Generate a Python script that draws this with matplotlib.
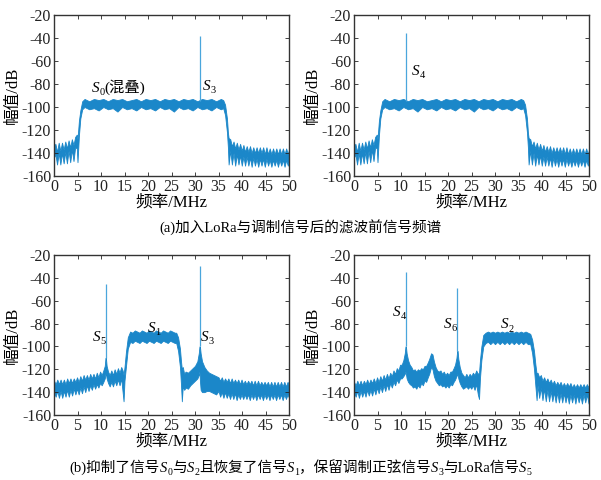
import matplotlib
matplotlib.use("Agg")
import matplotlib.pyplot as plt
from matplotlib.transforms import IdentityTransform

plt.rcParams["font.family"] = ["Liberation Serif", "Noto Sans CJK SC"]
plt.rcParams["axes.unicode_minus"] = False

BLUE = "#1b87c9"
SPIKE = "#4aa6dc"

# ---- (a) spectrum before filtering (same band for both panels) ----
a_freq = [0.0, 0.3, 0.65, 1.0, 1.35, 1.7, 2.05, 2.4, 2.75, 3.1, 3.45, 3.8, 4.15, 4.5, 4.85, 5.0,
          5.3, 5.6, 6.0,
          6.5, 7.5, 8.5, 9.5, 10.5, 11.5, 12.5, 13.5, 14.5, 15.5, 16.5, 17.5, 18.5, 19.5, 20.5,
          21.5, 22.5, 23.5, 24.5, 25.5, 26.5, 27.5, 28.5, 29.5, 30.5, 31.5, 32.5, 33.5, 34.5, 35.5,
          36.0, 36.4, 36.8, 37.0, 37.15,
          37.5, 37.85, 38.2, 38.55, 38.9, 39.25, 39.6, 39.95, 40.3, 40.65, 41.0, 41.35, 41.7,
          42.05, 42.4, 42.75, 43.1, 43.45, 43.8, 44.15, 44.5, 44.85, 45.2, 45.55, 45.9, 46.25,
          46.6, 46.95, 47.3, 47.65, 48.0, 48.35, 48.7, 49.05, 49.4, 49.75, 50.0]
a_upper = [-134, -132, -139, -131, -138, -131, -137, -130, -136, -129, -135, -128, -133, -126, -124, -128,
           -112, -103, -95,
           -93, -95, -93, -94, -93, -95, -93, -94, -93, -95, -94, -93, -95, -93, -94,
           -93, -95, -93, -94, -93, -95, -93, -94, -93, -95, -93, -94, -93, -95, -93,
           -94, -98, -110, -122, -127,
           -128, -134, -130, -136, -131, -137, -132, -138, -133, -139, -134, -139, -134,
           -140, -135, -140, -135, -140, -135, -140, -135, -141, -135, -141, -136, -141,
           -136, -141, -136, -141, -136, -141, -136, -141, -136, -141, -137]
a_lower = [-144, -141, -150, -140, -150, -140, -149, -139, -149, -138, -148, -137, -147, -135, -136, -148,
           -125, -110, -102,
           -100, -102, -101, -103, -100, -102, -101, -104, -100, -102, -101, -103, -100, -102, -101,
           -103, -100, -102, -101, -104, -100, -102, -101, -103, -100, -102, -101, -103, -100, -102,
           -101, -107, -122, -135, -150,
           -138, -150, -140, -151, -141, -150, -142, -151, -143, -151, -143, -151, -144,
           -152, -144, -151, -145, -152, -145, -151, -145, -152, -145, -151, -146, -152,
           -146, -151, -146, -152, -146, -151, -146, -152, -146, -151, -146]
a_left_spike = [31.0, -38]
a_right_spike = [11.0, -36]

# ---- (b) left: S1 recovered, S3 and S5 kept ----
bl_freq = [0.0, 0.35, 0.7, 1.05, 1.4, 1.75, 2.1, 2.45, 2.8, 3.15, 3.5, 3.85, 4.2, 4.55, 4.9, 5.25,
           5.6, 5.95, 6.3, 6.65, 7.0, 7.35, 7.7, 8.05, 8.4, 8.75, 9.1, 9.45, 9.8, 10.15, 10.5,
           10.8, 10.95, 11.05, 11.2, 11.5, 11.85, 12.2, 12.55, 12.9, 13.25, 13.6, 13.95, 14.3,
           14.6, 14.8, 15.0, 15.3, 15.7, 16.2,
           16.7, 17.2, 17.7, 18.2, 18.7, 19.2, 19.7, 20.2, 20.7, 21.2, 21.7, 22.2, 22.7, 23.2,
           23.7, 24.2, 24.7, 25.2, 25.7,
           26.0, 26.4, 26.8, 27.0, 27.2, 27.4, 27.7, 28.0, 28.5, 29.0, 29.5, 30.0, 30.5, 30.8,
           30.95, 31.05, 31.2, 31.5, 32.0, 32.5, 33.0, 33.5, 34.0, 34.5,
           35.0, 35.35, 35.7, 36.05, 36.4, 36.75, 37.1, 37.45, 37.8, 38.15, 38.5, 38.85, 39.2,
           39.55, 39.9, 40.25, 40.6, 40.95, 41.3, 41.65, 42.0, 42.35, 42.7, 43.05, 43.4, 43.75,
           44.1, 44.45, 44.8, 45.15, 45.5, 45.85, 46.2, 46.55, 46.9, 47.25, 47.6, 47.95, 48.3,
           48.65, 49.0, 49.35, 49.7, 50.0]
bl_upper = [-130, -133, -129, -133, -129, -133, -129, -133, -128, -132, -128, -132, -128, -131, -127, -131,
            -126, -130, -125, -129, -125, -129, -124, -128, -124, -128, -123, -127, -122, -125, -121,
            -117, -110, -110, -117, -122, -125, -121, -125, -120, -124, -119, -123, -118,
            -121, -125, -118, -105, -92, -87,
            -88, -86, -87, -88, -86, -87, -88, -86, -87, -88, -86, -87, -88, -86,
            -87, -88, -86, -87, -88,
            -88, -92, -102, -112, -120, -118, -124, -122, -123, -121, -119, -117, -113, -106,
            -100, -100, -106, -113, -118, -121, -123, -124, -125, -126,
            -127, -130, -127, -131, -128, -131, -128, -132, -128, -132, -129, -132, -129,
            -133, -129, -133, -130, -133, -130, -133, -130, -134, -130, -134, -130, -134,
            -131, -134, -131, -134, -131, -135, -131, -135, -131, -135, -131, -135, -131,
            -135, -131, -135, -131, -134]
bl_lower = [-140, -144, -139, -145, -139, -145, -139, -144, -138, -144, -138, -143, -137, -142, -137, -142,
            -136, -141, -135, -140, -134, -139, -134, -138, -133, -137, -133, -136, -132, -134, -131,
            -128, -124, -124, -128, -132, -135, -131, -135, -130, -134, -129, -134, -128,
            -140, -148, -130, -118, -102, -96,
            -97, -95, -96, -97, -95, -96, -97, -95, -96, -97, -95, -96, -97, -95,
            -96, -97, -95, -96, -97,
            -97, -104, -118, -132, -148, -135, -138, -136, -137, -134, -132, -130, -128, -125,
            -122, -130, -138, -140, -140, -139, -139, -140, -141, -142,
            -139, -144, -140, -145, -140, -145, -141, -146, -141, -146, -141, -147, -142,
            -146, -142, -146, -142, -146, -142, -147, -142, -146, -142, -147, -142, -146,
            -142, -147, -142, -146, -142, -147, -142, -146, -142, -147, -142, -146, -142,
            -147, -142, -146, -142, -145]
bl_spikes = [[11.0, -110, -45], [31.0, -100, -30]]

# ---- (b) right: S2 band, S4 and S6 kept ----
br_freq = [0.0, 0.35, 0.7, 1.05, 1.4, 1.75, 2.1, 2.45, 2.8, 3.15, 3.5, 3.85, 4.2, 4.55, 4.9, 5.25,
           5.6, 5.95, 6.3, 6.65, 7.0, 7.35, 7.7, 8.05, 8.4, 8.75, 9.1, 9.45, 9.8, 10.15, 10.5,
           10.8, 10.95, 11.05, 11.2, 11.5, 11.85, 12.2, 12.55, 12.9, 13.25, 13.6, 13.95, 14.3,
           14.65, 15.0, 15.35, 15.7, 16.0, 16.4, 16.7, 17.0, 17.35, 17.7, 18.05, 18.4, 18.75,
           19.1, 19.45, 19.8, 20.15, 20.5, 20.85, 21.2, 21.5, 21.8, 21.95, 22.05, 22.2, 22.5,
           22.85, 23.2, 23.55, 23.9, 24.25, 24.6, 24.95, 25.3, 25.65, 26.0, 26.35, 26.6, 26.8,
           27.1, 27.5, 28.0,
           28.5, 29.0, 29.5, 30.0, 30.5, 31.0, 31.5, 32.0, 32.5, 33.0, 33.5, 34.0, 34.5, 35.0,
           35.5, 36.0, 36.5, 37.0,
           37.5, 37.9, 38.3, 38.6, 38.85, 39.05, 39.4, 39.75, 40.1, 40.45, 40.8, 41.15, 41.5,
           41.85, 42.2, 42.55, 42.9, 43.25, 43.6, 43.95, 44.3, 44.65, 45.0, 45.35, 45.7, 46.05,
           46.4, 46.75, 47.1, 47.45, 47.8, 48.15, 48.5, 48.85, 49.2, 49.55, 49.9, 50.0]
br_upper = [-131, -134, -130, -134, -130, -134, -130, -133, -129, -133, -129, -132, -128, -132, -127, -131,
            -126, -130, -125, -129, -124, -128, -123, -126, -121, -124, -119, -121, -116, -116, -112,
            -106, -100, -100, -106, -112, -116, -118, -121, -120, -122, -120, -121, -119,
            -120, -117, -117, -114, -111, -106, -107, -113, -118, -121, -122, -121, -124,
            -122, -125, -123, -125, -122, -122, -119, -116, -110, -104, -104, -111, -118,
            -123, -125, -127, -124, -127, -124, -126, -123, -125, -121, -124, -123, -112,
            -100, -90, -88,
            -87, -88, -87, -88, -87, -88, -87, -88, -87, -88, -87, -88, -87, -88,
            -87, -88, -87, -88,
            -89, -94, -104, -116, -124, -123, -127, -125, -130, -127, -131, -128, -132,
            -129, -133, -130, -134, -131, -134, -131, -135, -132, -135, -132, -135, -132,
            -136, -133, -136, -133, -136, -133, -136, -133, -136, -133, -136, -134]
br_lower = [-140, -144, -139, -145, -139, -144, -139, -144, -138, -143, -138, -143, -137, -142, -136, -141,
            -135, -140, -134, -139, -133, -138, -132, -136, -131, -134, -129, -132, -128, -128, -126,
            -124, -122, -124, -128, -131, -133, -134, -136, -135, -137, -134, -136, -132,
            -134, -130, -131, -127, -124, -118, -120, -126, -130, -132, -134, -133, -135,
            -134, -136, -134, -136, -133, -134, -131, -129, -126, -124, -125, -128, -132,
            -135, -137, -136, -135, -137, -135, -137, -134, -138, -133, -142, -146, -128,
            -112, -100, -97,
            -96, -98, -96, -98, -96, -98, -96, -98, -96, -98, -96, -98, -96, -98,
            -96, -98, -96, -98,
            -98, -106, -120, -135, -147, -134, -145, -136, -147, -137, -148, -138, -148,
            -139, -148, -140, -149, -140, -149, -141, -149, -141, -149, -142, -150, -142,
            -149, -142, -150, -142, -149, -143, -150, -142, -149, -142, -150, -145]
br_spikes = [[11.0, -100, -35], [22.0, -104, -49]]


fig = plt.figure(figsize=(6.01, 4.80), dpi=100)
W, H = 601, 480
renderer = fig.canvas.get_renderer()


def rich_text(x, y, pieces, size, ha="center", transform=None):
    """Place text pieces side by side: 'n' normal, 'i' italic, 'sub' subscript."""
    if transform is None:
        transform = fig.transFigure
    px, py = transform.transform((x, y))
    arts = []
    total = 0
    for s, kind in pieces:
        fs = size * 0.68 if kind == "sub" else size
        style = "italic" if kind == "i" else "normal"
        t = fig.text(0, 0, s, fontsize=fs, style=style, va="baseline",
                     transform=IdentityTransform())
        w = t.get_window_extent(renderer).width
        arts.append((t, kind, w))
        total += w
    cur = px - total / 2 if ha == "center" else px
    for t, kind, w in arts:
        dy = -size * 0.22 * fig.dpi / 72 if kind == "sub" else 0
        t.set_position((cur, py + dy))
        cur += w


def make_ax(left, top, right, bottom):
    ax = fig.add_axes([left / W, 1 - bottom / H, (right - left) / W, (bottom - top) / H])
    ax.set_xlim(0, 50)
    ax.set_ylim(-160, -20)
    ax.set_xticks(range(0, 51, 5))
    ax.set_yticks(range(-160, -19, 20))
    ax.tick_params(direction="in", length=3, width=0.6, labelsize=11.5, pad=2,
                   top=True, right=True, colors="#222222")
    for s in ax.spines.values():
        s.set_linewidth(1.0)
        s.set_color("#333333")
    ax.set_xlabel("频率/MHz", fontsize=12, labelpad=0)
    ax.set_ylabel("幅值/dB", fontsize=12, labelpad=1)
    return ax


def draw_band(ax, f, up, lo):
    ax.fill_between(f, lo, up, color=BLUE, lw=0.6, edgecolor=BLUE)


def label(ax, x, y, name, sub, extra=None):
    pieces = [(name, "i"), (sub, "sub")]
    if extra:
        pieces.append((extra, "n"))
    rich_text(x, y, pieces, 11, ha="left", transform=ax.transData)


ax1 = make_ax(54, 15, 289, 176)
draw_band(ax1, a_freq, a_upper, a_lower)
ax1.vlines(a_left_spike[0], -95, a_left_spike[1], color=SPIKE, lw=0.9)
label(ax1, 8.0, -87, "S", "0", "(混叠)")
label(ax1, 31.7, -85, "S", "3")

ax2 = make_ax(354, 15, 589, 176)
draw_band(ax2, a_freq, a_upper, a_lower)
ax2.vlines(a_right_spike[0], -95, a_right_spike[1], color=SPIKE, lw=0.9)
label(ax2, 12.3, -72, "S", "4")

ax3 = make_ax(54, 255, 289, 415)
draw_band(ax3, bl_freq, bl_upper, bl_lower)
for f, b, p in bl_spikes:
    ax3.vlines(f, b, p, color=SPIKE, lw=0.9)
label(ax3, 8.3, -95, "S", "5")
label(ax3, 20.0, -87, "S", "1")
label(ax3, 31.3, -95, "S", "3")

ax4 = make_ax(354, 255, 589, 415)
draw_band(ax4, br_freq, br_upper, br_lower)
for f, b, p in br_spikes:
    ax4.vlines(f, b, p, color=SPIKE, lw=0.9)
label(ax4, 8.3, -73, "S", "4")
label(ax4, 19.1, -83.5, "S", "6")
label(ax4, 31.3, -84, "S", "2")

rich_text(0.5, 1 - 232 / H, [("(a)加入LoRa与调制信号后的滤波前信号频谱", "n")], 10.5)
rich_text(0.5, 1 - 472 / H,
          [("(b)抑制了信号", "n"), ("S", "i"), ("0", "sub"), ("与", "n"), ("S", "i"), ("2", "sub"),
           ("且恢复了信号", "n"), ("S", "i"), ("1", "sub"), ("，保留调制正弦信号", "n"),
           ("S", "i"), ("3", "sub"), ("与LoRa信号", "n"), ("S", "i"), ("5", "sub")], 10.5)

fig.savefig("out.png", dpi=100)
